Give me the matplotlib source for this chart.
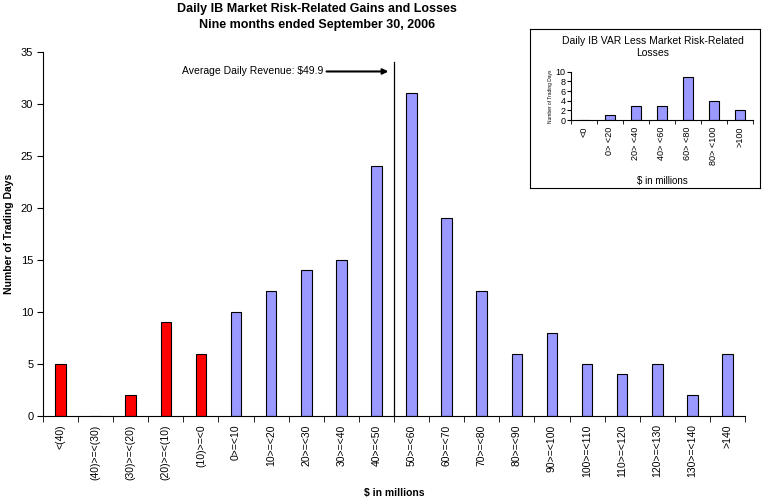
import matplotlib.pyplot as plt
import numpy as np

plt.rcParams['font.family'] = ['Liberation Sans', 'DejaVu Sans']

# main histogram
categories = ['<(40)', '(40)>=<(30)', '(30)>=<(20)', '(20)>=<(10)', '(10)>=<0',
              '0>=<10', '10>=<20', '20>=<30', '30>=<40', '40>=<50', '50>=<60',
              '60>=<70', '70>=<80', '80>=<90', '90>=<100', '100>=<110',
              '110>=<120', '120>=<130', '130>=<140', '>140']
days = [5, 0, 2, 9, 6, 10, 12, 14, 15, 24, 31, 19, 12, 6, 8, 5, 4, 5, 2, 6]
avg_revenue = 49.9

# inset histogram
inset_categories = ['<0', '0> <20', '20> <40', '40> <60', '60> <80', '80> <100', '>100']
inset_days = [0, 1, 3, 3, 9, 4, 2]

RED = '#FF0000'
BLUE = '#9999FF'

fig = plt.figure(figsize=(7.69, 4.99), dpi=100)
ax = fig.add_axes([0.0559, 0.1663, 0.9129, 0.7301])

x = np.arange(len(categories))
colors = [RED if i < 5 else BLUE for i in range(len(categories))]
ax.bar(x, days, width=0.3, color=colors, edgecolor='black', linewidth=0.8)

ax.set_xlim(-0.5, len(categories) - 0.5)
ax.set_ylim(0, 35)
ax.set_yticks(range(0, 36, 5))
ax.set_xticks(x)
ax.set_xticklabels(categories, rotation=90, fontsize=7.5)
ax.set_xticks(np.arange(-0.5, len(categories), 1), minor=True)
ax.tick_params(axis='x', which='major', length=0, pad=6)
ax.tick_params(axis='x', which='minor', length=4, direction='out')
ax.tick_params(axis='y', length=4, direction='out', labelsize=8, pad=3)
for s in ['top', 'right']:
    ax.spines[s].set_visible(False)

ax.set_ylabel('Number of Trading Days', fontsize=7.5, fontweight='bold', labelpad=5)
ax.set_xlabel('$ in millions', fontsize=7.5, fontweight='bold', labelpad=6)
ax.set_title('Daily IB Market Risk-Related Gains and Losses\nNine months ended September 30, 2006',
             fontsize=9, fontweight='bold', x=0.39, pad=17, linespacing=1.45)

# average line (categories of 10 starting at 0 at index 5)
avg_x = 4.5 + avg_revenue / 10
ax.plot([avg_x, avg_x], [0, 34], color='black', linewidth=0.9)
ax.annotate('Average Daily Revenue: $49.9', xy=(avg_x - 0.15, 33.1), xytext=(7.5, 33.1),
            ha='right', va='center', fontsize=7.5,
            arrowprops=dict(arrowstyle='-|>', color='black', lw=1.5, mutation_scale=8,
                            shrinkA=0, shrinkB=0))

# inset frame
box = fig.add_axes([0.689, 0.623, 0.299, 0.319])
box.set_xticks([])
box.set_yticks([])
for s in box.spines.values():
    s.set_linewidth(0.8)

ins = fig.add_axes([0.7425, 0.7595, 0.2365, 0.0968])
xi = np.arange(len(inset_categories))
ins.bar(xi, inset_days, width=0.38, color=BLUE, edgecolor='black', linewidth=0.8)
ins.set_xlim(-0.5, len(inset_categories) - 0.5)
ins.set_ylim(0, 10)
ins.set_yticks(range(0, 11, 2))
ins.set_xticks(xi)
ins.set_xticklabels(inset_categories, rotation=90, fontsize=6.5)
ins.set_xticks(np.arange(-0.5, len(inset_categories), 1), minor=True)
ins.tick_params(axis='x', which='major', length=0, pad=5)
ins.tick_params(axis='x', which='minor', length=3, direction='out')
ins.tick_params(axis='y', length=3, direction='out', labelsize=6.5, pad=1)
for s in ['top', 'right']:
    ins.spines[s].set_visible(False)
ins.set_ylabel('Number of Trading Days', fontsize=3.5, labelpad=2)
ins.set_xlabel('$ in millions', fontsize=7, labelpad=8)
ins.set_title('Daily IB VAR Less Market Risk-Related\nLosses', fontsize=7.5, pad=11,
              x=0.45, linespacing=1.3)

fig.savefig('out.png', dpi=100)
